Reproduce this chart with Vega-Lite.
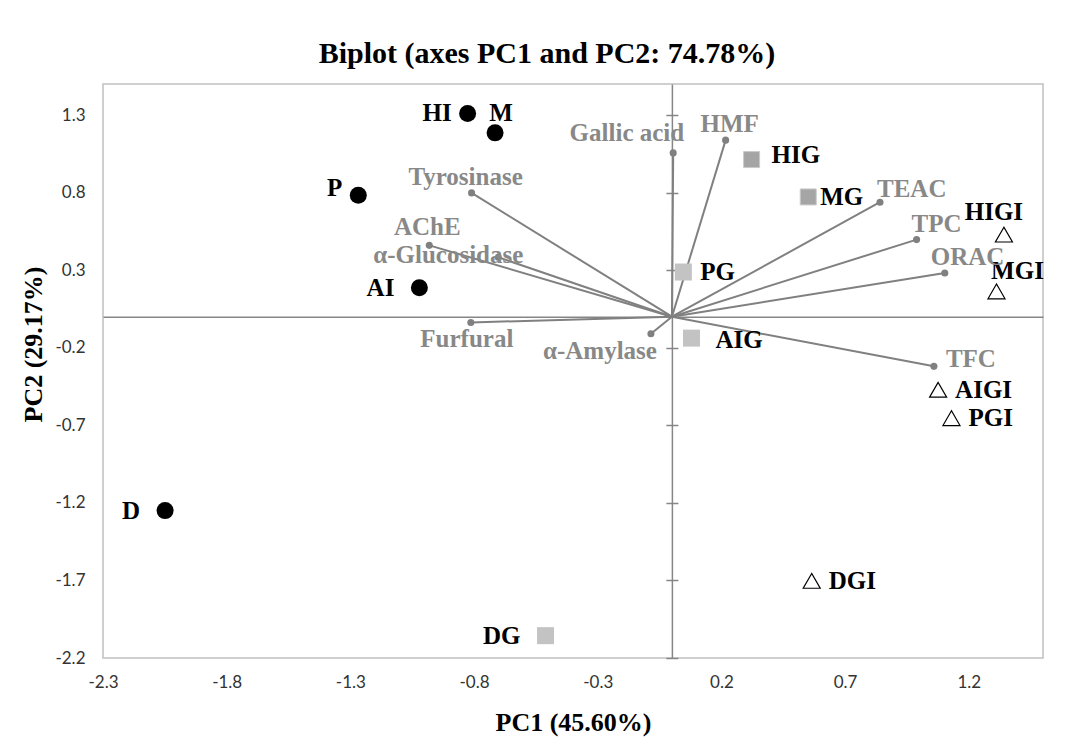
{
  "$schema": "https://vega.github.io/schema/vega-lite/v6.json",
  "width": 940,
  "height": 574,
  "autosize": {"type": "none"},
  "padding": {"left": 103, "top": 84, "right": 25, "bottom": 88},
  "background": "white",
  "config": {
    "view": {"stroke": "#c0c0c0", "strokeWidth": 1.5},
    "locale": {"number": {"decimal": ".", "thousands": ",", "grouping": [3], "currency": ["$", ""], "minus": "-"}},
    "text": {"font": "Liberation Serif", "fontSize": 25, "fontWeight": "bold", "baseline": "middle"}
  },
  "title": {
    "text": "Biplot (axes PC1 and PC2: 74.78%)",
    "font": "Liberation Serif", "fontSize": 30, "fontWeight": "bold", "color": "black",
    "anchor": "middle", "frame": "group", "dx": -26, "dy": 30, "offset": 21, "baseline": "alphabetic"
  },
  "datasets": {
    "obs": [
      {"name": "HI", "series": "honey", "pc1": -0.826, "pc2": 1.310},
      {"name": "M", "series": "honey", "pc1": -0.715, "pc2": 1.185},
      {"name": "P", "series": "honey", "pc1": -1.268, "pc2": 0.783},
      {"name": "AI", "series": "honey", "pc1": -1.021, "pc2": 0.187},
      {"name": "D", "series": "honey", "pc1": -2.049, "pc2": -1.250},
      {"name": "HIG", "series": "G", "pc1": 0.322, "pc2": 1.013},
      {"name": "MG", "series": "G", "pc1": 0.551, "pc2": 0.772},
      {"name": "PG", "series": "G", "pc1": 0.046, "pc2": 0.288},
      {"name": "AIG", "series": "G", "pc1": 0.079, "pc2": -0.138},
      {"name": "DG", "series": "G", "pc1": -0.511, "pc2": -2.056},
      {"name": "HIGI", "series": "GI", "pc1": 1.342, "pc2": 0.529},
      {"name": "MGI", "series": "GI", "pc1": 1.312, "pc2": 0.163},
      {"name": "AIGI", "series": "GI", "pc1": 1.076, "pc2": -0.471},
      {"name": "PGI", "series": "GI", "pc1": 1.130, "pc2": -0.654},
      {"name": "DGI", "series": "GI", "pc1": 0.565, "pc2": -1.703}
    ],
    "vars": [
      {"name": "Gallic acid", "pc1": 0.005, "pc2": 1.056},
      {"name": "HMF", "pc1": 0.217, "pc2": 1.138},
      {"name": "TEAC", "pc1": 0.841, "pc2": 0.738},
      {"name": "TPC", "pc1": 0.989, "pc2": 0.497},
      {"name": "ORAC", "pc1": 1.103, "pc2": 0.282},
      {"name": "TFC", "pc1": 1.059, "pc2": -0.320},
      {"name": "α-Amylase", "pc1": -0.085, "pc2": -0.110},
      {"name": "Tyrosinase", "pc1": -0.810, "pc2": 0.798},
      {"name": "AChE", "pc1": -0.981, "pc2": 0.460},
      {"name": "α-Glucosidase", "pc1": -0.702, "pc2": 0.383},
      {"name": "Furfural", "pc1": -0.813, "pc2": -0.037}
    ]
  },
  "resolve": {"axis": {"x": "independent", "y": "independent"}},
  "layer": [
    {
      "data": {"name": "vars"},
      "mark": {"type": "point", "opacity": 0},
      "encoding": {
        "x": {
          "field": "pc1", "type": "quantitative",
          "scale": {"domain": [-2.3, 1.5], "nice": false, "zero": false},
          "axis": {
            "orient": "bottom", "offset": -341.3, "labels": false, "ticks": false,
            "domain": true, "domainColor": "#868686", "domainWidth": 1.5, "grid": false, "title": null
          }
        },
        "y": {
          "field": "pc2", "type": "quantitative",
          "scale": {"domain": [-2.2, 1.5], "nice": false, "zero": false},
          "axis": {
            "orient": "right", "offset": -371.1,
            "values": [-2.2, -1.7, -1.2, -0.7, -0.2, 0.3, 0.8, 1.3],
            "labels": false, "domain": true, "domainColor": "#868686", "domainWidth": 1.5,
            "ticks": true, "tickSize": 6, "tickColor": "#868686", "tickWidth": 1.5, "grid": false, "title": null
          }
        }
      }
    },
    {
      "data": {"name": "vars"},
      "mark": {"type": "point", "opacity": 0},
      "encoding": {
        "y": {
          "field": "pc2", "type": "quantitative",
          "scale": {"domain": [-2.2, 1.5], "nice": false, "zero": false},
          "axis": {
            "orient": "left", "offset": -568.9,
            "values": [-2.2, -1.7, -1.2, -0.7, -0.2, 0.3, 0.8, 1.3],
            "labels": false, "domain": false,
            "ticks": true, "tickSize": 6, "tickColor": "#868686", "tickWidth": 1.5, "grid": false, "title": null
          }
        }
      }
    },
    {
      "encoding": {
        "x": {
          "field": "pc1", "type": "quantitative",
          "scale": {"domain": [-2.3, 1.5], "nice": false, "zero": false},
          "axis": {
            "orient": "bottom",
            "title": "PC1 (45.60%)",
            "values": [-2.3, -1.8, -1.3, -0.8, -0.3, 0.2, 0.7, 1.2],
            "format": ".1f", "grid": false, "domain": false, "ticks": false, "tickSize": 0,
            "labelFlush": false, "labelOverlap": false, "labelPadding": 16,
            "labelFont": "Lato", "labelFontSize": 17, "labelColor": "#333333",
            "titleFont": "Liberation Serif", "titleFontSize": 26, "titleFontWeight": "bold", "titleColor": "black",
            "titleY": 72, "titleBaseline": "alphabetic"
          }
        },
        "y": {
          "field": "pc2", "type": "quantitative",
          "scale": {"domain": [-2.2, 1.5], "nice": false, "zero": false},
          "axis": {
            "orient": "left",
            "title": "PC2 (29.17%)",
            "values": [-2.2, -1.7, -1.2, -0.7, -0.2, 0.3, 0.8, 1.3],
            "format": ".1f", "grid": false, "domain": false, "ticks": false, "tickSize": 0,
            "labelFlush": false, "labelOverlap": false, "labelPadding": 18,
            "labelFont": "Lato", "labelFontSize": 17, "labelColor": "#333333",
            "titleFont": "Liberation Serif", "titleFontSize": 26, "titleFontWeight": "bold", "titleColor": "black",
            "titleX": -62, "titleY": 260, "titleBaseline": "alphabetic", "titleAngle": -90
          }
        }
      },
      "layer": [
        {
          "data": {"name": "vars"},
          "mark": {"type": "rule", "color": "#808080", "strokeWidth": 2},
          "encoding": {"x2": {"datum": 0}, "y2": {"datum": 0}}
        },
        {
          "data": {"name": "vars"},
          "mark": {"type": "point", "shape": "circle", "filled": true, "size": 50, "color": "#808080", "opacity": 1},
          "encoding": {}
        },
        {
          "data": {"name": "obs"},
          "transform": [{"filter": {"field": "series", "equal": "honey"}}],
          "mark": {"type": "point", "shape": "circle", "filled": true, "size": 289, "color": "black", "opacity": 1},
          "encoding": {}
        },
        {
          "data": {"name": "obs"},
          "transform": [{"filter": {"field": "name", "oneOf": ["HIG", "MG"]}}],
          "mark": {"type": "point", "shape": "square", "filled": true, "size": 256, "fill": "#a5a5a5", "stroke": "#cacaca", "strokeWidth": 1, "opacity": 1},
          "encoding": {}
        },
        {
          "data": {"name": "obs"},
          "transform": [{"filter": {"field": "name", "oneOf": ["PG", "AIG", "DG"]}}],
          "mark": {"type": "point", "shape": "square", "filled": true, "size": 289, "color": "#c3c3c3", "opacity": 1},
          "encoding": {}
        },
        {
          "data": {"name": "obs"},
          "transform": [{"filter": {"field": "series", "equal": "GI"}}],
          "mark": {"type": "point", "shape": "triangle-up", "filled": false, "size": 290, "stroke": "black", "strokeWidth": 1.2, "opacity": 1},
          "encoding": {}
        },
        {
          "data": {"name": "obs"},
          "transform": [{"filter": {"field": "name", "oneOf": ["HI"]}}],
          "mark": {"type": "text", "color": "black", "align": "right", "dx": -16, "dy": 0},
          "encoding": {"text": {"field": "name"}}
        },
        {
          "data": {"name": "obs"},
          "transform": [{"filter": {"field": "name", "oneOf": ["P"]}}],
          "mark": {"type": "text", "color": "black", "align": "right", "dx": -16, "dy": -7},
          "encoding": {"text": {"field": "name"}}
        },
        {
          "data": {"name": "obs"},
          "transform": [{"filter": {"field": "name", "oneOf": ["AI", "D", "DG"]}}],
          "mark": {"type": "text", "color": "black", "align": "right", "dx": -25, "dy": 0},
          "encoding": {"text": {"field": "name"}}
        },
        {
          "data": {"name": "obs"},
          "transform": [{"filter": {"field": "name", "oneOf": ["PG", "AIGI", "PGI", "DGI"]}}],
          "mark": {"type": "text", "color": "black", "align": "left", "dx": 17, "dy": 0},
          "encoding": {"text": {"field": "name"}}
        },
        {
          "data": {"name": "obs"},
          "transform": [{"filter": {"field": "name", "oneOf": ["HIG"]}}],
          "mark": {"type": "text", "color": "black", "align": "left", "dx": 20, "dy": -5},
          "encoding": {"text": {"field": "name"}}
        },
        {
          "data": {"name": "obs"},
          "transform": [{"filter": {"field": "name", "oneOf": ["MG"]}}],
          "mark": {"type": "text", "color": "black", "align": "left", "dx": 12, "dy": 0},
          "encoding": {"text": {"field": "name"}}
        },
        {
          "data": {"name": "obs"},
          "transform": [{"filter": {"field": "name", "oneOf": ["AIG"]}}],
          "mark": {"type": "text", "color": "black", "align": "left", "dx": 24, "dy": 2},
          "encoding": {"text": {"field": "name"}}
        },
        {
          "data": {"name": "obs"},
          "transform": [{"filter": {"field": "name", "oneOf": ["M"]}}],
          "mark": {"type": "text", "color": "black", "align": "center", "dx": 6, "dy": -20},
          "encoding": {"text": {"field": "name"}}
        },
        {
          "data": {"name": "obs"},
          "transform": [{"filter": {"field": "name", "oneOf": ["HIGI"]}}],
          "mark": {"type": "text", "color": "black", "align": "center", "dx": -10, "dy": -23},
          "encoding": {"text": {"field": "name"}}
        },
        {
          "data": {"name": "obs"},
          "transform": [{"filter": {"field": "name", "oneOf": ["MGI"]}}],
          "mark": {"type": "text", "color": "black", "align": "center", "dx": 21, "dy": -20},
          "encoding": {"text": {"field": "name"}}
        },
        {
          "data": {"name": "vars"},
          "transform": [{"filter": {"field": "name", "oneOf": ["Gallic acid"]}}],
          "mark": {"type": "text", "color": "#888888", "align": "right", "dx": 11, "dy": -20},
          "encoding": {"text": {"field": "name"}}
        },
        {
          "data": {"name": "vars"},
          "transform": [{"filter": {"field": "name", "oneOf": ["HMF"]}}],
          "mark": {"type": "text", "color": "#888888", "align": "center", "dx": 4, "dy": -16},
          "encoding": {"text": {"field": "name"}}
        },
        {
          "data": {"name": "vars"},
          "transform": [{"filter": {"field": "name", "oneOf": ["TEAC"]}}],
          "mark": {"type": "text", "color": "#888888", "align": "left", "dx": -3, "dy": -13},
          "encoding": {"text": {"field": "name"}}
        },
        {
          "data": {"name": "vars"},
          "transform": [{"filter": {"field": "name", "oneOf": ["TPC"]}}],
          "mark": {"type": "text", "color": "#888888", "align": "left", "dx": -5, "dy": -16},
          "encoding": {"text": {"field": "name"}}
        },
        {
          "data": {"name": "vars"},
          "transform": [{"filter": {"field": "name", "oneOf": ["ORAC"]}}],
          "mark": {"type": "text", "color": "#888888", "align": "left", "dx": -14, "dy": -16},
          "encoding": {"text": {"field": "name"}}
        },
        {
          "data": {"name": "vars"},
          "transform": [{"filter": {"field": "name", "oneOf": ["TFC"]}}],
          "mark": {"type": "text", "color": "#888888", "align": "left", "dx": 12, "dy": -7},
          "encoding": {"text": {"field": "name"}}
        },
        {
          "data": {"name": "vars"},
          "transform": [{"filter": {"field": "name", "oneOf": ["α-Amylase"]}}],
          "mark": {"type": "text", "color": "#888888", "align": "right", "dx": 6, "dy": 17},
          "encoding": {"text": {"field": "name"}}
        },
        {
          "data": {"name": "vars"},
          "transform": [{"filter": {"field": "name", "oneOf": ["Tyrosinase"]}}],
          "mark": {"type": "text", "color": "#888888", "align": "center", "dx": -6, "dy": -16},
          "encoding": {"text": {"field": "name"}}
        },
        {
          "data": {"name": "vars"},
          "transform": [{"filter": {"field": "name", "oneOf": ["AChE"]}}],
          "mark": {"type": "text", "color": "#888888", "align": "center", "dx": -2, "dy": -18},
          "encoding": {"text": {"field": "name"}}
        },
        {
          "data": {"name": "vars"},
          "transform": [{"filter": {"field": "name", "oneOf": ["α-Glucosidase"]}}],
          "mark": {"type": "text", "color": "#888888", "align": "center", "dx": -50, "dy": -2},
          "encoding": {"text": {"field": "name"}}
        },
        {
          "data": {"name": "vars"},
          "transform": [{"filter": {"field": "name", "oneOf": ["Furfural"]}}],
          "mark": {"type": "text", "color": "#888888", "align": "center", "dx": -4, "dy": 17},
          "encoding": {"text": {"field": "name"}}
        }
      ]
    }
  ]
}
